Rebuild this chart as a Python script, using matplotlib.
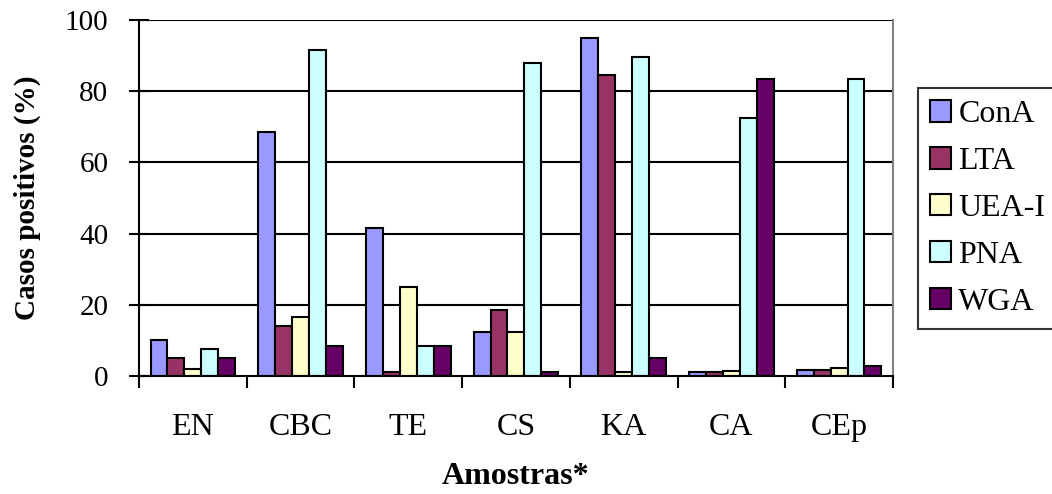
import matplotlib
matplotlib.use("Agg")
import matplotlib.pyplot as plt
import numpy as np

plt.rcParams['font.family'] = ['Liberation Serif', 'DejaVu Serif']

# dados
amostras = ["EN", "CBC", "TE", "CS", "KA", "CA", "CEp"]
lectinas = ["ConA", "LTA", "UEA-I", "PNA", "WGA"]
cona = [10.0, 68.5, 41.7, 12.3, 95.0, 1.0, 1.7]
lta = [5.0, 14.0, 1.0, 18.4, 84.5, 1.0, 1.7]
uea = [2.0, 16.7, 25.0, 12.3, 1.0, 1.5, 2.2]
pna = [7.7, 91.7, 8.3, 87.8, 89.5, 72.5, 83.3]
wga = [5.0, 8.3, 8.3, 1.0, 5.0, 83.3, 2.7]
cores = ["#9999FF", "#993366", "#FFFFCC", "#CCFFFF", "#660066"]

fig = plt.figure(figsize=(10.52, 4.94), dpi=100)
ax = fig.add_axes([0.1321, 0.2389, 0.7167, 0.7206])

x = np.arange(len(amostras))
largura = 0.157
series = [cona, lta, uea, pna, wga]
for i, vals in enumerate(series):
    ax.bar(x + (i - 2) * largura, vals, largura, color=cores[i],
           edgecolor="black", linewidth=1.5, label=lectinas[i], zorder=3)

ax.set_xlim(-0.5, len(amostras) - 0.5)
ax.set_ylim(0, 100)
ax.set_yticks([0, 20, 40, 60, 80, 100])
for y in [20, 40, 60, 80, 100]:
    ax.axhline(y, color="black", linewidth=1.5, zorder=1)

ax.set_xticks(x)
ax.set_xticklabels(amostras, fontsize=23)
ax.set_xticks(np.arange(-0.5, len(amostras)), minor=True)
ax.tick_params(axis="x", which="major", length=0, pad=27)
ax.tick_params(axis="x", which="minor", length=8.5, width=1.5, direction="out")
ax.tick_params(axis="y", labelsize=21, length=14, width=1.5, direction="inout", pad=15)

ax.spines["left"].set_linewidth(1.5)
ax.spines["right"].set_color("gray")
ax.spines["right"].set_linewidth(1.5)
ax.spines["top"].set_visible(False)
ax.spines["bottom"].set_linewidth(1.5)
ax.spines["bottom"].set_zorder(4)

ax.set_ylabel("Casos positivos (%)", fontsize=21, fontweight="bold", labelpad=17)
ax.set_xlabel("Amostras*", fontsize=23, fontweight="bold", labelpad=14)

leg = ax.legend(loc="upper left", bbox_to_anchor=(918 / 1052, 1 - 88 / 494),
                bbox_transform=fig.transFigure, fontsize=23,
                frameon=True, fancybox=False, edgecolor="black",
                handlelength=0.66, handleheight=0.66, handletextpad=0.22,
                labelspacing=0.56, borderpad=0.38, borderaxespad=0)
leg.get_frame().set_linewidth(1.5)

fig.savefig("out.png", dpi=100)
